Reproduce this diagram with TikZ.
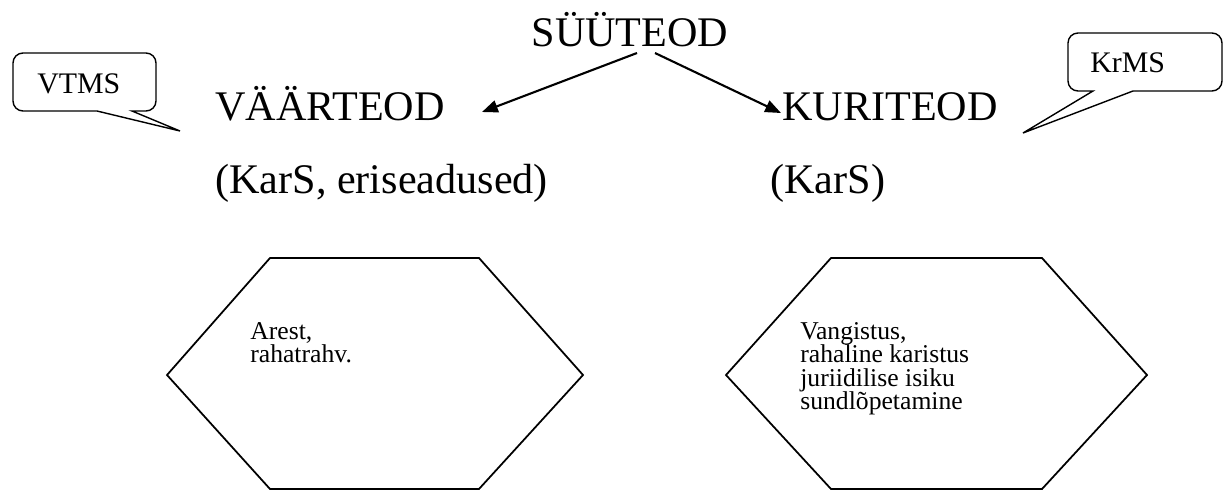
\documentclass[tikz,border=0pt]{standalone}
\usepackage{fontspec}
\setmainfont{Liberation Serif}
\usetikzlibrary{arrows.meta}

\begin{document}
\begin{tikzpicture}[x=0.02cm,y=-0.02cm,
    big/.style={font=\fontsize{24}{28}\selectfont,inner sep=0pt,anchor=base west},
    small/.style={font=\fontsize{17}{20}\selectfont,inner sep=0pt,anchor=base west},
    inhex/.style={font=\fontsize{14.6}{13.4}\selectfont,inner sep=0pt,anchor=north west,align=left},
    hex/.style={line width=1pt},
    bubble/.style={line width=0.8pt},
    arr/.style={-{Triangle[length=9pt,width=7pt]},line width=1.2pt}]
    \useasboundingbox (0,0) rectangle (1224,491);

    \draw (630,46) node[big,anchor=base] (SYY) {SÜÜTEOD};
    \draw (215,120) node[big] (VAART) {VÄÄRTEOD};
    \draw (782,120) node[big] (KURI) {KURITEOD};
    \draw (215,193) node[big] (KARSV) {(KarS, eriseadused)};
    \draw (770,193) node[big] (KARSK) {(KarS)};

    \coordinate (SYYl) at (637,53);
    \coordinate (SYYr) at (655,53);
    \coordinate (VAARTtip) at (482,112);
    \coordinate (KURItip) at (781,113);
    \draw[arr] (SYYl) -- (VAARTtip);
    \draw[arr] (SYYr) -- (KURItip);

    % callouts
    \draw[bubble] (180,131) -- (132,111) [rounded corners=5.7pt] -- (156,111) -- (156,53) -- (13,53) -- (13,111) [sharp corners] -- (97,111) -- cycle;
    \draw (37,93) node[small] (VTMS) {VTMS};
    \draw[bubble] (1023,133) -- (1133,91) [rounded corners=5.7pt] -- (1222,91) -- (1222,33) -- (1068,33) -- (1068,91) [sharp corners] -- (1093,91) -- cycle;
    \draw (1090,72) node[small] (KRMS) {KrMS};

    % hexagons
    \draw[hex] (167,375) -- (270,258) -- (479,258) -- (583,375) -- (479,489) -- (270,489) -- cycle;
    \draw[hex] (726,375) -- (831,258) -- (1042,258) -- (1147,375) -- (1042,489) -- (831,489) -- cycle;
    \node[inhex] (ARE) at (250,322) {Arest,\\rahatrahv.};
    \node[inhex] (VANG) at (800,322) {Vangistus,\\rahaline karistus\\juriidilise isiku\\sundlõpetamine};
\end{tikzpicture}
\end{document}
